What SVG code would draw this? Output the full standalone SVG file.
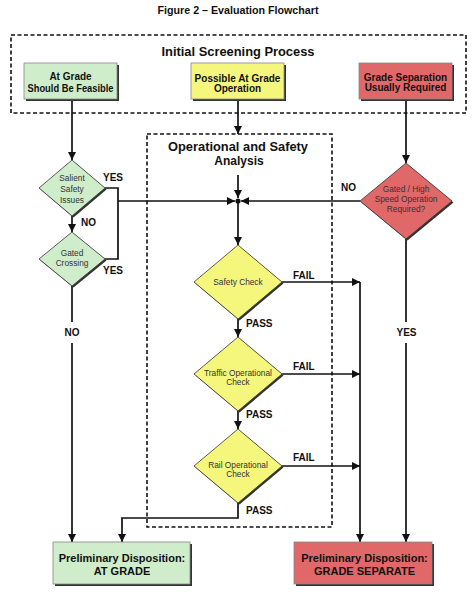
<svg xmlns="http://www.w3.org/2000/svg" width="476" height="605" viewBox="0 0 476 605">
<defs>
<marker id="arr" markerUnits="userSpaceOnUse" markerWidth="9" markerHeight="9" refX="8" refY="4" orient="auto">
<path d="M0,0 L8,4 L0,8 z" fill="#111"/>
</marker>
</defs>
<style>
text{font-family:"Liberation Sans",Arial,sans-serif;fill:#111}
.b{font-weight:bold}
.t{font-size:10px;font-weight:bold;text-anchor:middle}
.bx{font-size:10px;font-weight:bold;text-anchor:middle}
.fx{font-size:11px;font-weight:bold;text-anchor:middle}
.dt{font-size:8.3px;text-anchor:middle;fill:#333}
.lb{font-size:10px;font-weight:bold}
.sh{fill:#333}
.box{stroke:#888;stroke-width:0.8}
.dia{stroke:#333;stroke-width:0.8}
.g{fill:#cfeccb}
.y{fill:#f5f77c}
.r{fill:#e06868}
.dash{fill:none;stroke:#111;stroke-width:1.6;stroke-dasharray:4,2.5}
.c{fill:none;stroke:#111;stroke-width:1.7}
</style>
<rect width="476" height="605" fill="#fff"/>
<text x="238" y="14" class="t" textLength="161" lengthAdjust="spacingAndGlyphs">Figure 2 – Evaluation Flowchart</text>

<g id="screening">
<rect class="dash" x="11" y="35" width="455" height="78"/>
<text x="238" y="56" class="b" font-size="12" text-anchor="middle" textLength="153" lengthAdjust="spacingAndGlyphs">Initial Screening Process</text>
</g>

<g id="analysis">
<rect class="dash" x="147" y="134" width="185" height="393"/>
<text x="238" y="151" class="b" font-size="12" text-anchor="middle" textLength="140" lengthAdjust="spacingAndGlyphs">Operational and Safety</text>
<text x="239" y="165" class="b" font-size="12" text-anchor="middle">Analysis</text>
</g>

<g id="connectors">
<path class="c" d="M72,100 V160" marker-end="url(#arr)"/>
<path class="c" d="M105,188 H118 V259 H105"/>
<path class="c" d="M118,201 H235" marker-end="url(#arr)"/>
<path class="c" d="M72,216 V232" marker-end="url(#arr)"/>
<path class="c" d="M72,286 V322"/>
<path class="c" d="M72,343 V542" marker-end="url(#arr)"/>
<path class="c" d="M238,100 V134" marker-end="url(#arr)"/>
<path class="c" d="M238,175 V198" marker-end="url(#arr)"/>
<path class="c" d="M238,201 V245" marker-end="url(#arr)"/>
<path class="c" d="M282,282 H360" marker-end="url(#arr)"/>
<path class="c" d="M360,282 V542" marker-end="url(#arr)"/>
<path class="c" d="M238,319 V337" marker-end="url(#arr)"/>
<path class="c" d="M282,374 H360" marker-end="url(#arr)"/>
<path class="c" d="M238,411 V429" marker-end="url(#arr)"/>
<path class="c" d="M282,466 H360" marker-end="url(#arr)"/>
<path class="c" d="M238,503 V518 H122 V542" marker-end="url(#arr)"/>
<path class="c" d="M406,100 V163" marker-end="url(#arr)"/>
<path class="c" d="M360,201 H241" marker-end="url(#arr)"/>
<path class="c" d="M406,239 V322"/>
<path class="c" d="M406,343 V542" marker-end="url(#arr)"/>
<circle cx="238" cy="201" r="2.6" fill="#111"/>
<text x="103" y="181" class="lb">YES</text>
<text x="103" y="274" class="lb">YES</text>
<text x="81" y="226" class="lb">NO</text>
<text x="72" y="336" class="lb" text-anchor="middle">NO</text>
<text x="406.5" y="336" class="lb" text-anchor="middle">YES</text>
<text x="341" y="191" class="lb">NO</text>
<text x="293" y="279" class="lb">FAIL</text>
<text x="293" y="370" class="lb">FAIL</text>
<text x="293" y="461" class="lb">FAIL</text>
<text x="246" y="327" class="lb">PASS</text>
<text x="246" y="418" class="lb">PASS</text>
<text x="246" y="514" class="lb">PASS</text>
</g>

<g id="at-grade">
<rect class="sh" x="26" y="65" width="93" height="36"/>
<rect class="box g" x="24" y="63" width="93" height="36"/>
<text x="70.5" y="80" class="bx">At Grade</text>
<text x="70.5" y="92" class="bx" textLength="86" lengthAdjust="spacingAndGlyphs">Should Be Feasible</text>
</g>

<g id="possible">
<rect class="sh" x="193" y="65" width="93" height="36"/>
<rect class="box y" x="191" y="63" width="93" height="36"/>
<text x="237.5" y="82" class="bx">Possible At Grade</text>
<text x="237.5" y="92" class="bx">Operation</text>
</g>

<g id="grade-sep">
<rect class="sh" x="361" y="65" width="93" height="36"/>
<rect class="box r" x="359" y="63" width="93" height="36"/>
<text x="405.5" y="81" class="bx">Grade Separation</text>
<text x="405.5" y="90.5" class="bx">Usually Required</text>
</g>

<g id="salient">
<polygon class="sh" points="73.5,161.5 106.5,189.5 73.5,217.5 40.5,189.5"/>
<polygon class="dia g" points="72,160 105,188 72,216 39,188"/>
<text x="72" y="181" class="dt">Salient</text>
<text x="72" y="192" class="dt">Safety</text>
<text x="72" y="203" class="dt">Issues</text>
</g>

<g id="gated">
<polygon class="sh" points="73.5,233.5 106.5,260.5 73.5,287.5 40.5,260.5"/>
<polygon class="dia g" points="72,232 105,259 72,286 39,259"/>
<text x="72" y="256" class="dt">Gated</text>
<text x="72" y="266" class="dt">Crossing</text>
</g>

<g id="high-speed">
<polygon class="sh" points="407.5,164.5 453.5,202.5 407.5,240.5 361.5,202.5"/>
<polygon class="dia r" points="406,163 452,201 406,239 360,201"/>
<text x="406" y="192" class="dt" font-size="8.6">Gated / High</text>
<text x="406" y="202" class="dt" font-size="8.6">Speed Operation</text>
<text x="406" y="212" class="dt" font-size="8.6">Required?</text>
</g>

<g id="safety">
<polygon class="sh" points="239.5,246.5 283.5,283.5 239.5,320.5 195.5,283.5"/>
<polygon class="dia y" points="238,245 282,282 238,319 194,282"/>
<text x="238" y="285" class="dt">Safety Check</text>
</g>

<g id="traffic">
<polygon class="sh" points="239.5,338.5 283.5,375.5 239.5,412.5 195.5,375.5"/>
<polygon class="dia y" points="238,337 282,374 238,411 194,374"/>
<text x="238" y="376" class="dt">Traffic Operational</text>
<text x="238" y="385" class="dt">Check</text>
</g>

<g id="rail">
<polygon class="sh" points="239.5,430.5 283.5,467.5 239.5,504.5 195.5,467.5"/>
<polygon class="dia y" points="238,429 282,466 238,503 194,466"/>
<text x="238" y="468" class="dt">Rail Operational</text>
<text x="238" y="477" class="dt">Check</text>
</g>

<g id="final-at-grade">
<rect class="sh" x="55" y="544" width="137" height="42"/>
<rect class="box g" x="53" y="542" width="137" height="42"/>
<text x="122" y="562" class="fx">Preliminary Disposition:</text>
<text x="122" y="574.5" class="fx">AT GRADE</text>
</g>

<g id="final-grade-sep">
<rect class="sh" x="296" y="544" width="138" height="42"/>
<rect class="box r" x="294" y="542" width="138" height="42"/>
<text x="364.5" y="562" class="fx">Preliminary Disposition:</text>
<text x="364.5" y="574.5" class="fx">GRADE SEPARATE</text>
</g>
</svg>
